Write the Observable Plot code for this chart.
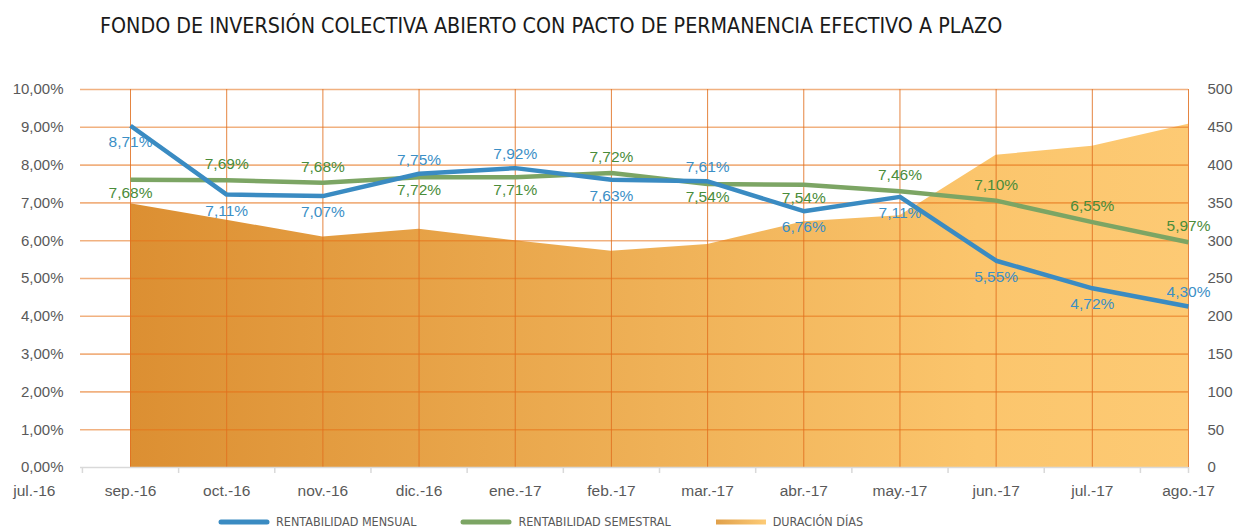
<!DOCTYPE html>
<html>
<head>
<meta charset="utf-8">
<script src="https://cdn.jsdelivr.net/npm/d3@7"></script>
<script src="https://cdn.jsdelivr.net/npm/@observablehq/plot@0.6"></script>
<style>
  html, body { margin: 0; padding: 0; background: #fff; width: 1236px; height: 532px; overflow: hidden; position: relative; }
  #title { position: absolute; left: 100px; top: 13px; font-family: "Liberation Sans Narrow", "DejaVu Sans Condensed", "Liberation Sans", sans-serif; font-size: 21.3px; color: #1a1a1a; white-space: nowrap; }
  #chart { position: absolute; left: 0; top: 60px; }
  #legend { position: absolute; left: 218px; top: 514px; display: flex; gap: 44px; align-items: center; font-family: "Liberation Sans Narrow", "DejaVu Sans Condensed", "Liberation Sans", sans-serif; font-size: 12.5px; color: #595959; }
  .item { display: flex; align-items: center; gap: 6px; }
</style>
</head>
<body>
<div id="title">FONDO DE INVERSIÓN COLECTIVA ABIERTO CON PACTO DE PERMANENCIA EFECTIVO A PLAZO</div>
<div id="chart"></div>
<div id="legend"></div>
<script>
// ---- data ----
const months = ["sep.-16","oct.-16","nov.-16","dic.-16","ene.-17","feb.-17","mar.-17","abr.-17","may.-17","jun.-17","jul.-17","ago.-17"];
const axisLabels = ["jul.-16","sep.-16","oct.-16","nov.-16","dic.-16","ene.-17","feb.-17","mar.-17","abr.-17","may.-17","jun.-17","jul.-17","ago.-17"];
const rentMensual = [9.04, 7.22, 7.18, 7.77, 7.92, 7.61, 7.57, 6.78, 7.16, 5.47, 4.74, 4.26];
const rentSemestral = [7.61, 7.60, 7.53, 7.68, 7.68, 7.79, 7.50, 7.48, 7.31, 7.06, 6.49, 5.96];
const duracionDias = [349, 327, 305, 315, 300, 286, 295, 325, 333, 413, 425, 454];
const mensualLabels = ["8,71%","7,11%","7,07%","7,75%","7,92%","7,63%","7,61%","6,76%","7,11%","5,55%","4,72%","4,30%"];
const mensualSide = ["below","below","below","above","above","below","above","below","below","below","below","above"];
const semestralLabels = ["7,68%","7,69%","7,68%","7,72%","7,71%","7,72%","7,54%","7,54%","7,46%","7,10%","6,55%","5,97%"];
const semestralSide = ["below","above","above","below","below","above","below","below","above","above","above","above"];
const leftTicks = [0,1,2,3,4,5,6,7,8,9,10];
const rightTicks = [0,50,100,150,200,250,300,350,400,450,500];

// ---- build rows ----
const rows = months.map((m, i) => ({
  i, m,
  mens: rentMensual[i], sem: rentSemestral[i], dur: duracionDias[i],
  mensLab: mensualLabels[i], mensSide: mensualSide[i],
  semLab: semestralLabels[i], semSide: semestralSide[i]
}));
const idx = rows.map(d => d.i);
const durScale = 50; // 500 days <-> 10%

const BLUE = "#3a8bc2", GREEN = "#7ca564";
const BLUE_T = "#3b8fc6", GREEN_T = "#4a8c3a";
const font = "Liberation Sans, Arial, sans-serif";

const chart = Plot.plot({
  width: 1236,
  height: 445,
  marginTop: 29,
  marginBottom: 38,
  marginLeft: 80,
  marginRight: 48,
  style: { fontFamily: font, fontSize: "15px", color: "#595959", background: "transparent" },
  x: { type: "linear", domain: [-0.52, 11], axis: null },
  y: { domain: [0, 10], axis: null },
  marks: [
    Plot.areaY(rows, { x: "i", y: d => d.dur / durScale, fill: "url(#durGrad)", curve: "linear" }),
    Plot.ruleY(leftTicks.filter(t => t > 0), { stroke: "#e57118", strokeOpacity: 0.55, strokeWidth: 1.6 }),
    Plot.ruleX(idx, { y1: 0, y2: 10, stroke: "#e07020", strokeOpacity: 0.85, strokeWidth: 1 }),
    Plot.ruleY([0], { stroke: "#d9d9d9", strokeWidth: 1.5 }),
    // bottom tick marks between months
    Plot.axisX({ ticks: [...idx.map(i => i - 0.5), idx[idx.length - 1]], tickFormat: () => "", tickSize: 6, stroke: "#d9d9d9", strokeWidth: 1.5, label: null, tickPadding: 0 }),
    // month labels
    Plot.axisX({ ticks: [-1, ...idx], tickFormat: t => axisLabels[t + 1], tickSize: 0, tickPadding: 17, fontSize: 15.5, fill: "#595959", label: null }),
    Plot.axisY({ anchor: "left", ticks: leftTicks, tickFormat: t => t.toFixed(2).replace(".", ",") + "%", tickSize: 0, tickPadding: 17, fontSize: 15, fill: "#595959", label: null }),
    Plot.axisY({ anchor: "right", ticks: rightTicks.map(t => t / durScale), tickFormat: t => String(Math.round(t * durScale)), tickSize: 0, tickPadding: 19, textAnchor: "start", fontSize: 15, fill: "#595959", label: null }),
    Plot.line(rows, { x: "i", y: "sem", stroke: GREEN, strokeWidth: 4.5, strokeLinejoin: "round", strokeLinecap: "butt" }),
    Plot.line(rows, { x: "i", y: "mens", stroke: BLUE, strokeWidth: 4.5, strokeLinejoin: "round", strokeLinecap: "butt" }),
    Plot.text(rows.filter(d => d.mensSide === "above"), { x: "i", y: "mens", text: "mensLab", dy: -14, fill: BLUE_T, fontSize: 15.5 }),
    Plot.text(rows.filter(d => d.mensSide === "below"), { x: "i", y: "mens", text: "mensLab", dy: 16, fill: BLUE_T, fontSize: 15.5 }),
    Plot.text(rows.filter(d => d.semSide === "above"), { x: "i", y: "sem", text: "semLab", dy: -16, fill: GREEN_T, fontSize: 15.5 }),
    Plot.text(rows.filter(d => d.semSide === "below"), { x: "i", y: "sem", text: "semLab", dy: 13, fill: GREEN_T, fontSize: 15.5 })
  ]
});

// gradient for the duration area
const ns = "http://www.w3.org/2000/svg";
const defs = document.createElementNS(ns, "defs");
defs.innerHTML = `<linearGradient id="durGrad" x1="0" y1="0" x2="1" y2="0">
  <stop offset="0" stop-color="#dc8f32"/>
  <stop offset="0.5" stop-color="#efb157"/>
  <stop offset="0.8" stop-color="#fbc56c"/>
  <stop offset="1" stop-color="#fdca74"/>
</linearGradient>`;
chart.insertBefore(defs, chart.firstChild);
document.getElementById("chart").appendChild(chart);

// legend
const legendItems = [
  { label: "RENTABILIDAD MENSUAL", kind: "line", color: BLUE },
  { label: "RENTABILIDAD SEMESTRAL", kind: "line", color: GREEN },
  { label: "DURACIÓN DÍAS", kind: "area" }
];
const legend = document.getElementById("legend");
legendItems.forEach(it => {
  const item = document.createElement("div");
  item.className = "item";
  const sw = it.kind === "line"
    ? `<svg width="52" height="8"><line x1="3" y1="4" x2="49" y2="4" stroke="${it.color}" stroke-width="5" stroke-linecap="round"/></svg>`
    : `<svg width="52" height="8"><defs><linearGradient id="legGrad2" x1="0" y1="0" x2="1" y2="0"><stop offset="0" stop-color="#e0a04a"/><stop offset="1" stop-color="#fdcb76"/></linearGradient></defs><rect x="1" y="1.5" width="50" height="5" fill="url(#legGrad2)"/></svg>`;
  item.innerHTML = sw + `<span>${it.label}</span>`;
  legend.appendChild(item);
});
</script>
</body>
</html>
